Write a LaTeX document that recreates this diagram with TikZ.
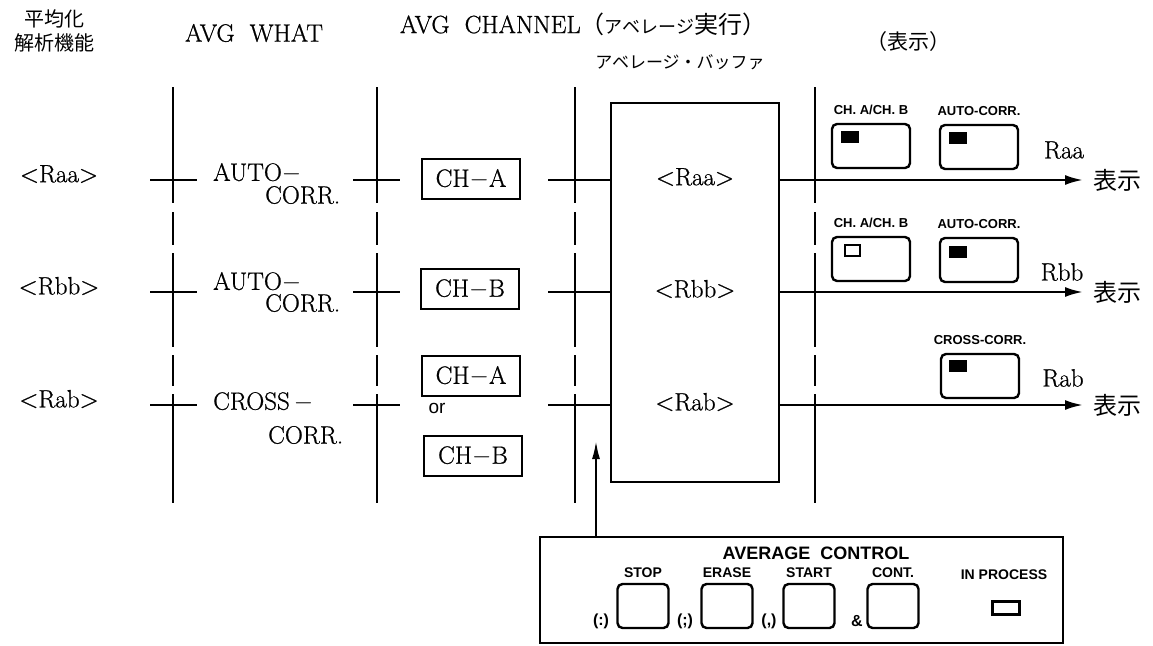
\documentclass[tikz,border=0pt]{standalone}
\usepackage{fontspec}
\setsansfont{Liberation Sans}
\newfontfamily\jpfont{Noto Sans CJK JP}
\newfontfamily\rmheavy{Latin Modern Roman}[FakeBold=0.8]
\usepackage{tikz}
\usetikzlibrary{arrows.meta, positioning}
\newcommand{\rmbig}{\rmheavy\fontsize{25}{29}\selectfont}
\tikzset{
  rmtext/.style={inner sep=0pt, font=\rmbig},
  jptext/.style={inner sep=0pt, font=\jpfont\fontsize{20}{24}\selectfont},
  colline/.style={line width=2.8pt},
  tick/.style={line width=2.6pt},
  chbox/.style={rectangle, draw, line width=1.8pt,
    minimum width=98pt, minimum height=40pt, inner sep=0pt, font=\rmbig},
  bufbox/.style={rectangle, draw, line width=2.6pt,
    minimum width=168pt, minimum height=379pt},
  minilabel/.style={inner sep=0pt, font=\sffamily\bfseries\fontsize{13}{15}\selectfont},
  dispbox/.style={rectangle, draw, rounded corners=5pt, line width=2.4pt,
    minimum width=78pt, minimum height=44pt},
  ledon/.style={rectangle, fill, minimum width=18pt, minimum height=12pt, inner sep=0pt},
  ledoff/.style={rectangle, draw, line width=1.8pt, minimum width=15pt,
    minimum height=11pt, inner sep=0pt},
  panelbox/.style={rectangle, draw, line width=2pt,
    minimum width=523pt, minimum height=106pt},
  keybox/.style={rectangle, draw, rounded corners=5pt, line width=2.4pt,
    minimum width=51pt, minimum height=44pt},
  keylabel/.style={inner sep=0pt, font=\sffamily\bfseries\fontsize{14}{16}\selectfont},
  outarrow/.style={-{Latex[length=18pt,width=10pt]}, line width=2.4pt},
  uparrow/.style={-{Latex[length=18pt,width=8pt]}, line width=2pt}
}

\begin{document}
\begin{tikzpicture}[x=1pt, y=-1pt]
  \useasboundingbox (0,0) rectangle (1153,645);

  % Column headings
  \node[jptext, align=center] (hdfunc) at (54,31) {平均化\\解析機能};
  \node[rmtext] (hdwhat) at (254,33) {AVG\ \ WHAT};
  \node[rmtext] (hdchan) at (583,24)
    {AVG\ \ CHANNEL{\jpfont\fontsize{24}{28}\selectfont （{\fontsize{18}{20}\selectfont アベレージ}実行）}};
  \node[inner sep=0pt, font=\jpfont\fontsize{17}{20}\selectfont] (hdbuf) at (680,62) {アベレージ・バッファ};
  \node[jptext, font=\jpfont\fontsize{21}{24}\selectfont] (hddisp) at (908,42) {（表示）};

  % Column lines, broken between the rows
  \foreach \x in {173,377,575,815}
    \foreach \a/\b in {87/203,212/245,253/347,355/386,394/503}
      \draw[colline] (\x,\a) -- (\x,\b);

  % Average buffer
  \node[bufbox] (buf) at (695,292.5) {};

  % Rows
  \foreach \r/\y/\lab in {raa/180/Raa, rbb/292/Rbb, rab/405/Rab} {
    \node[rmtext] (fn\r) at (59,\y-6) {<\lab>};
    \draw[tick] (150,\y) -- (197,\y);
    \draw[tick] (353,\y) -- (400,\y);
    \node[rmtext] (buf\r) at (695,\y-3) {<\lab>};
    \coordinate (in\r) at (548,\y);
    \coordinate (out\r) at (1083,\y);
    \draw[tick] (in\r) -- (buf.west |- in\r);
    \draw[outarrow] (buf.east |- out\r) -- (out\r);
    \node[jptext, font=\jpfont\fontsize{24}{28}\selectfont, right=10pt of out\r] (show\r) {表示};
  }

  % AVG WHAT
  \node[rmtext, anchor=west] (whataa) at (213,173) {AUTO$-$};
  \node[rmtext, anchor=west] (corraa) at (265,195) {CORR.};
  \node[rmtext, anchor=west] (whatbb) at (213,282) {AUTO$-$};
  \node[rmtext, anchor=west] (corrbb) at (265,303) {CORR.};
  \node[rmtext, anchor=west] (whatab) at (213,402) {CROSS$\,-$};
  \node[rmtext, anchor=west] (corrab) at (268,435) {CORR.};

  % AVG CHANNEL
  \node[chbox] (cha1) at (471,179) {CH$-$A};
  \node[chbox] (chb1) at (470,289) {CH$-$B};
  \node[chbox] (cha2) at (471,376) {CH$-$A};
  \node[inner sep=0pt, font=\sffamily\fontsize{19}{21}\selectfont] (chor) at (437,408) {or};
  \node[chbox] (chb2) at (473,456) {CH$-$B};

  % Display panel
  \node[dispbox] (dchaa) at (871,146) {};
  \node[dispbox] (dautoa) at (979,147) {};
  \node[minilabel, above=8pt of dchaa] (lbchaa) {CH. A/CH. B};
  \node[minilabel, above=8pt of dautoa] (lbautoa) {AUTO-CORR.};
  \node[ledon, anchor=north west] at ([shift={(10,8)}]dchaa.north west) {};
  \node[ledon, anchor=north west] at ([shift={(10,8)}]dautoa.north west) {};
  \node[rmtext] (nmraa) at (1064,150) {Raa};

  \node[dispbox] (dchbb) at (871,259) {};
  \node[dispbox] (dautobb) at (979,260) {};
  \node[minilabel, above=8pt of dchbb] (lbchbb) {CH. A/CH. B};
  \node[minilabel, above=8pt of dautobb] (lbautobb) {AUTO-CORR.};
  \node[ledoff, anchor=north west] at ([shift={(13,8)}]dchbb.north west) {};
  \node[ledon, anchor=north west] at ([shift={(10,9)}]dautobb.north west) {};
  \node[rmtext] (nmrbb) at (1062,272) {Rbb};

  \node[dispbox] (dcross) at (980,376) {};
  \node[minilabel, above=8pt of dcross] (lbcross) {CROSS-CORR.};
  \node[ledon, anchor=north west] at ([shift={(9,7)}]dcross.north west) {};
  \node[rmtext] (nmrab) at (1063,378) {Rab};

  % Average control
  \node[panelbox] (ctrl) at (801.5,590) {};
  \node[keylabel, font=\sffamily\bfseries\fontsize{18}{20}\selectfont] (ctrlhd) at (816,553) {AVERAGE\ \ CONTROL};
  \foreach \k/\lab/\x/\pre/\px in {stop/STOP/643/{(:)}/601, erase/ERASE/727/{(;)}/685,
      start/START/809/{(,)}/769, cont/CONT./893/{\&}/857} {
    \node[keybox] (key\k) at (\x,606) {};
    \node[keylabel, above=5pt of key\k] (lb\k) {\lab};
    \node[keylabel, font=\sffamily\bfseries\fontsize{16}{18}\selectfont] (pre\k) at (\px,621) {\pre};
  }
  \node[keylabel] (lbproc) at (1004,575) {IN PROCESS};
  \node[ledoff, minimum width=27pt, minimum height=13pt, line width=2.2pt] (ledproc) at (1006,608) {};
  \coordinate (ctrlin) at (596,441);
  \draw[uparrow] (ctrl.north -| ctrlin) -- (ctrlin);
\end{tikzpicture}
\end{document}
